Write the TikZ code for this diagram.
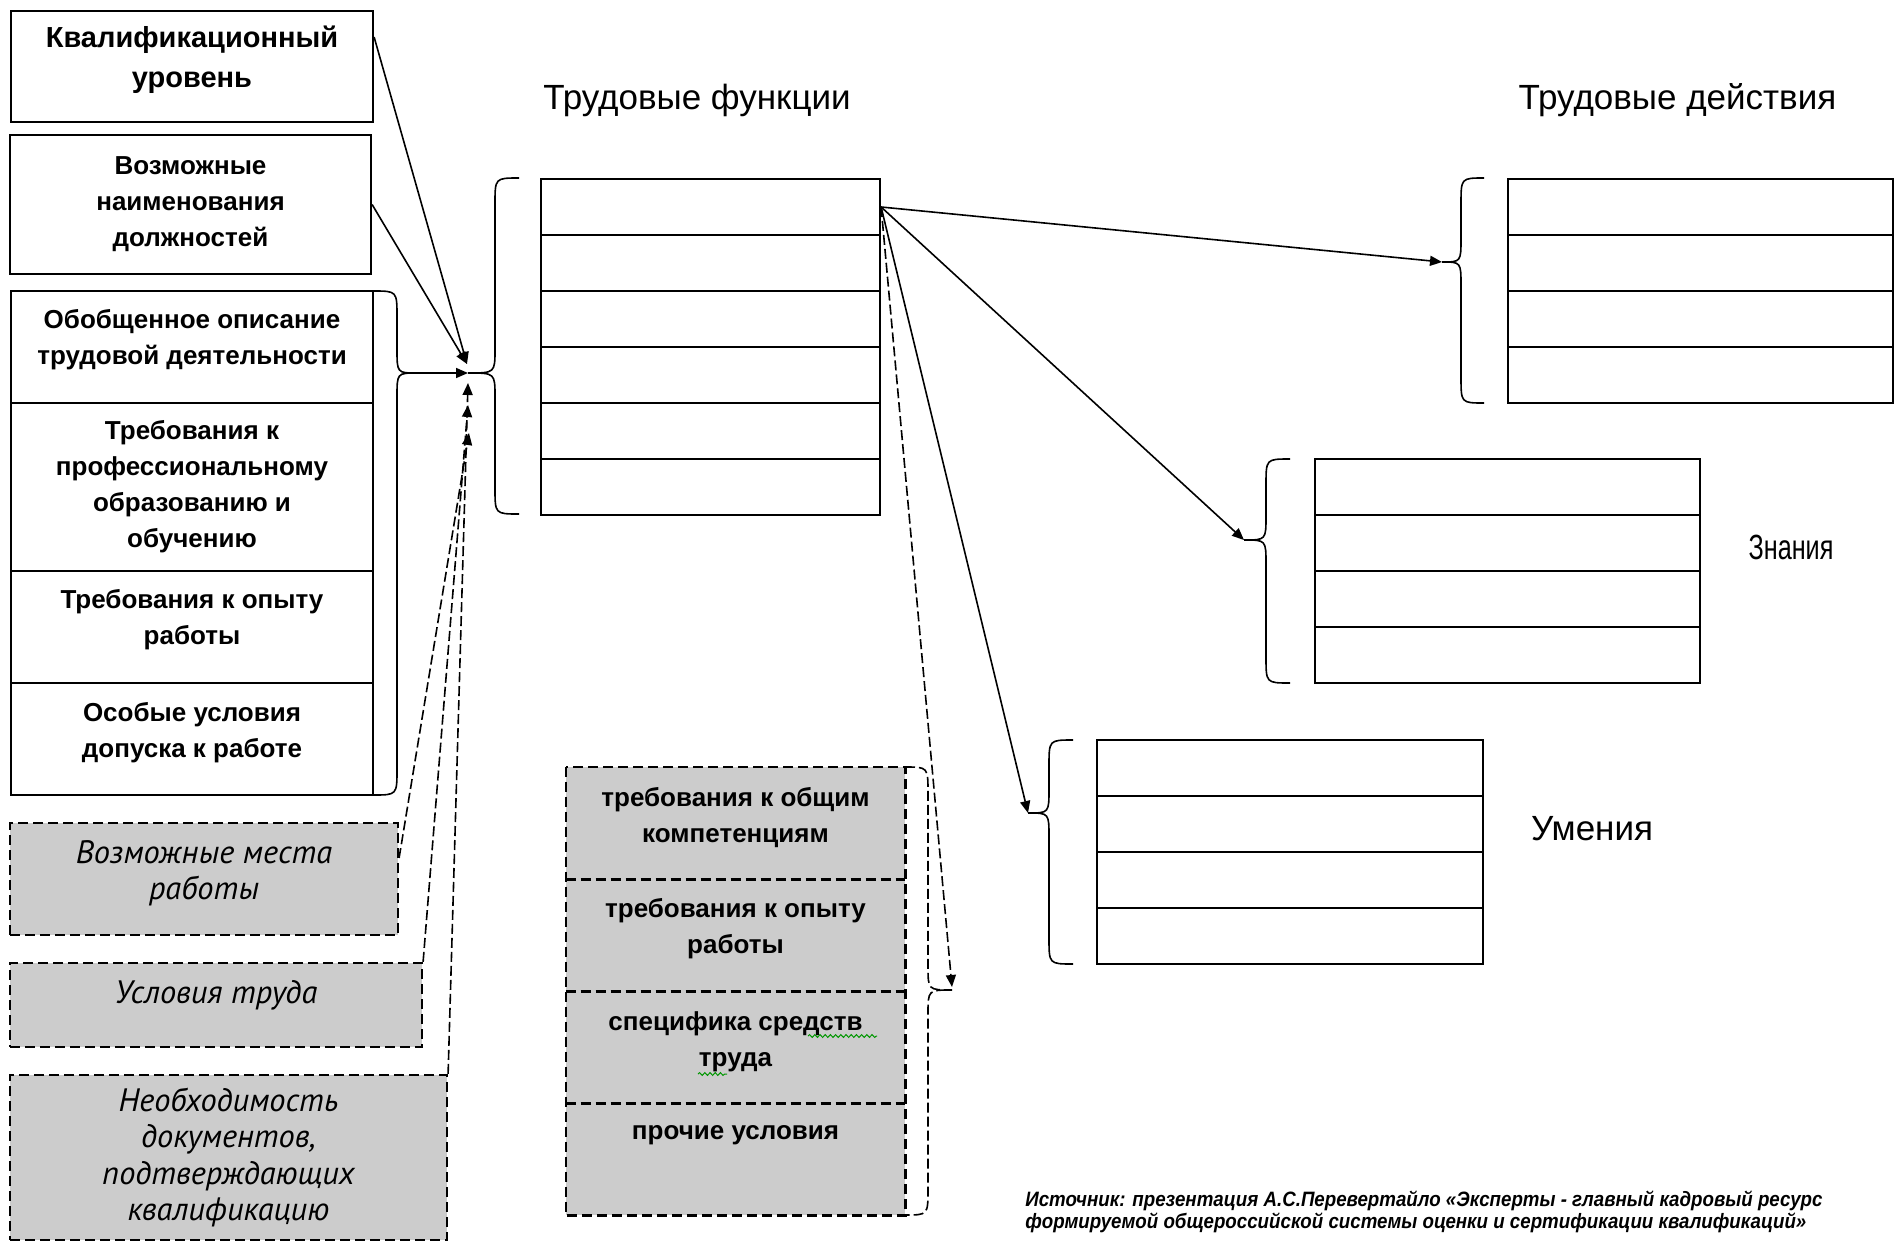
\documentclass[tikz,border=0pt]{standalone}
\usepackage{fontspec}
\setmainfont{Liberation Sans}
\newfontfamily\cursivesans{PT Sans}
\usetikzlibrary{arrows.meta,calc,decorations.pathmorphing}

\definecolor{fillgray}{RGB}{204,204,204}
\definecolor{spellgreen}{RGB}{0,150,0}

\tikzset{
  box/.style={draw=black, line width=1.1pt, inner sep=0pt, fill=white},
  dbox/.style={draw=black, line width=1.1pt, inner sep=0pt, fill=fillgray, dash pattern=on 5pt off 2.5pt},
  gcell/.style={inner sep=0pt, fill=fillgray, minimum width=169.5pt, minimum height=56pt},
  dline/.style={line width=1.1pt, dash pattern=on 5pt off 2.5pt},
  bigtxt/.style={align=center, inner sep=0pt, font=\fontsize{14.5}{20}\selectfont\bfseries},
  txt/.style={align=center, inner sep=0pt, font=\fontsize{13}{18}\selectfont\bfseries},
  ittxt/.style={align=center, inner sep=0pt, font=\cursivesans\itshape\fontsize{16.2}{18.2}\selectfont},
  title/.style={inner sep=0pt, font=\fontsize{17.5}{21}\selectfont},
  srctxt/.style={align=left, inner sep=0pt, anchor=west, xscale=0.9, transform shape,
    font=\fontsize{10.4}{10.8}\selectfont\bfseries\itshape},
  conn/.style={line width=0.8pt, -{Triangle[length=6pt,width=5pt]}},
  dconn/.style={conn, dash pattern=on 5pt off 2pt},
  brace/.style={line width=0.8pt},
  dbrace/.style={line width=0.8pt, dash pattern=on 5pt off 2pt},
  spell/.style={spellgreen, line width=0.5pt, decorate, decoration={snake, segment length=2.6pt, amplitude=0.7pt}}
}

% curly brace: #2 end x, #3 stem x, #4 tip x, #5 top y, #6 tip y, #7 bottom y
\newcommand\curlybrace[7][brace]{%
  \draw[#1] (#2,#5) .. controls (#3,#5) .. (#3,#5+26) -- (#3,#6-24)
    .. controls (#3,#6) .. (#4,#6) .. controls (#3,#6) .. (#3,#6+24)
    -- (#3,#7-26) .. controls (#3,#7) .. (#2,#7);}

\begin{document}
\begin{tikzpicture}[x=0.5pt,y=-0.5pt]
\useasboundingbox (0,0) rectangle (1895,1242);

% ---- left column: qualification data ----
\node[box, minimum width=181pt, minimum height=55.5pt] (q1) at (192,66.5) {};
\node[bigtxt] (q1t) at ([yshift=3.25pt]q1.center) {Квалификационный\\уровень};
\node[box, minimum width=180.5pt, minimum height=69.5pt] (q2) at (190.5,204.5) {};
\node[txt] (q2t) at (q2.center) {Возможные\\наименования\\должностей};

\node[box, minimum width=181pt, minimum height=56pt] (gc1) at (192,347) {};
\node[txt] (gc1t) at ([yshift=3.5pt]gc1.center) {Обобщенное описание\\трудовой деятельности};
\node[box, minimum width=181pt, minimum height=84pt] (gc2) at (192,487) {};
\node[txt] (gc2t) at (gc2.center) {Требования к\\профессиональному\\образованию и\\обучению};
\node[box, minimum width=181pt, minimum height=56pt] (gc3) at (192,627) {};
\node[txt] (gc3t) at ([yshift=3.5pt]gc3.center) {Требования к опыту\\работы};
\node[box, minimum width=181pt, minimum height=56pt] (gc4) at (192,739) {};
\node[txt] (gc4t) at ([yshift=3pt]gc4.center) {Особые условия\\допуска к работе};

% optional items (dashed, grey)
\node[dbox, minimum width=194pt, minimum height=56pt] (g1) at (204,879) {};
\node[ittxt] (g1t) at ([yshift=3pt]g1.center) {Возможные места\\работы};
\node[dbox, minimum width=206pt, minimum height=42pt] (g2) at (216,1005) {};
\node[ittxt] (g2t) at ([yshift=5pt]g2.center) {Условия труда};
\node[dbox, minimum width=218.5pt, minimum height=82.5pt] (g3) at (228.5,1157.5) {};
\node[ittxt] (g3t) at (g3.center) {Необходимость\\документов,\\подтверждающих\\квалификацию};

% ---- labour functions table ----
\node[title] (ttf) at (697,100) {Трудовые функции};
\foreach \i/\y in {1/207,2/263,3/319,4/375,5/431,6/487}
  \node[box, minimum width=169.5pt, minimum height=28pt] (tf\i) at (710.5,\y) {};

% braces
\curlybrace{373}{397}{417}{291}{373}{795}
\coordinate (ltip) at (417,373);
\curlybrace{519}{495}{468}{178}{373}{514}
\coordinate (hub) at (468,373);

% connectors into the hub
\draw[conn] ([yshift=14.75pt]q1.east) -- ($(hub)+(-1,-9)$);
\draw[conn] (q2.east) -- ($(hub)+(-1,-9)$);
\draw[conn] (ltip) -- (hub);
\draw[dconn] ([yshift=10.5pt]g1.east) -- ($(hub)+(1,60)$);
\draw[dconn] (g2.north east) -- ($(hub)+(0,32)$);
\draw[dconn] (g3.north east) -- ($(hub)+(0,10)$);

% ---- labour actions ----
\node[title] (ttd) at (1677.5,100) {Трудовые действия};
\foreach \i/\y in {1/207,2/263,3/319,4/375}
  \node[box, minimum width=192.5pt, minimum height=28pt] (td\i) at (1700.5,\y) {};
\curlybrace{1484}{1461}{1442}{178}{262}{403}
\coordinate (tdtip) at (1442,262);

% ---- knowledge ----
\node[title] (tzn) at (1791,547) {\scalebox{0.72}[1]{Знания}};
\foreach \i/\y in {1/487,2/543,3/599,4/655}
  \node[box, minimum width=192.5pt, minimum height=28pt] (zn\i) at (1507.5,\y) {};
\curlybrace{1290}{1266}{1244}{459}{540}{683}
\coordinate (zntip) at (1244,540);

% ---- skills ----
\node[title] (tum) at (1592,829) {Умения};
\foreach \i/\y in {1/768,2/824,3/880,4/936}
  \node[box, minimum width=193pt, minimum height=28pt] (um\i) at (1290,\y) {};
\curlybrace{1073}{1049}{1028}{740}{813}{964}
\coordinate (umtip) at (1028,813);

% ---- other characteristics (dashed, grey) ----
\node[gcell] (mg1) at (735.5,823) {};
\node[gcell] (mg2) at (735.5,935) {};
\node[gcell] (mg3) at (735.5,1047) {};
\node[gcell] (mg4) at (735.5,1159) {};
\draw[dline] (mg1.north west) rectangle (mg4.south east);
\draw[dline] (mg1.south west) -- (mg1.south east);
\draw[dline] (mg2.south west) -- (mg2.south east);
\draw[dline] (mg3.south west) -- (mg3.south east);
\node[txt] (mg1t) at ([yshift=2.5pt]mg1.center) {требования к общим\\компетенциям};
\node[txt] (mg2t) at ([yshift=3pt]mg2.center) {требования к опыту\\работы};
\node[txt] (mg3t) at ([yshift=2.5pt]mg3.center) {специфика средств\\труда};
\node[txt] (mg4t) at ([yshift=12pt]mg4.center) {прочие условия};
\draw[spell] (808,1036) -- (877,1036);
\draw[spell] (698,1074) -- (727,1074);
\curlybrace[dbrace]{905}{928}{952}{767}{990}{1215}
\coordinate (mgtip) at (952,990);

% connectors from the first labour function
\draw[conn] (tf1.east) -- (tdtip);
\draw[conn] (tf1.east) -- (zntip);
\draw[conn] (tf1.east) -- (umtip);
\draw[dconn] (tf1.east) -- ($(mgtip)+(0,-3)$);

% source note
\node[srctxt] (src) at (1025,1212) {Источник: презентация А.С.Перевертайло «Эксперты - главный кадровый ресурс\\формируемой общероссийской системы оценки и сертификации квалификаций»};
\end{tikzpicture}
\end{document}
